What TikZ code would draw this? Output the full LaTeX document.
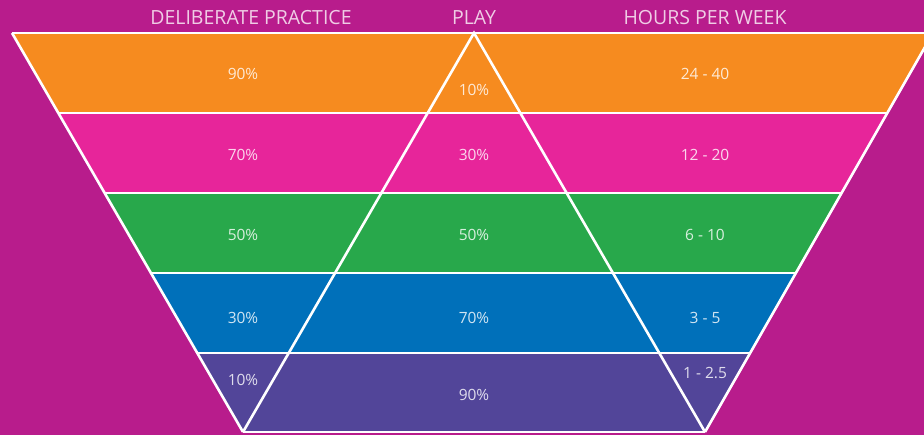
\documentclass[tikz,border=0pt]{standalone}
\usepackage{fontspec}
\setmainfont{Open Sans}
\definecolor{bgc}{HTML}{B81C8C}
\definecolor{c1}{HTML}{F68B1F}
\definecolor{c2}{HTML}{E7259A}
\definecolor{c3}{HTML}{28A84B}
\definecolor{c4}{HTML}{0070BA}
\definecolor{c5}{HTML}{524599}
\begin{document}
\begin{tikzpicture}[x=1pt,y=-1pt,
  lbl/.style={text=white,text opacity=0.82,font=\fontsize{15.5}{18}\selectfont,inner sep=0pt},
  hdr/.style={text=white,text opacity=0.78,font=\fontsize{19.5}{22}\selectfont,inner sep=0pt},
  wl/.style={draw=white,line width=2.6pt}]
\fill[bgc] (0,0) rectangle (924,435);
\useasboundingbox (0,0) rectangle (924,435);
\coordinate (TL) at (12,33);
\coordinate (TR) at (933,33);
\coordinate (BL) at (243,432);
\coordinate (BR) at (705,432);
\coordinate (AP) at (474,33);
\begin{scope}
\clip (TL) -- (TR) -- (BR) -- (BL) -- cycle;
\fill[c1] (0,33) rectangle (940,113);
\fill[c2] (0,113) rectangle (940,193);
\fill[c3] (0,193) rectangle (940,273);
\fill[c4] (0,273) rectangle (940,353);
\fill[c5] (0,353) rectangle (940,433);
\draw[wl] (0,113) -- (940,113);
\draw[wl] (0,193) -- (940,193);
\draw[wl] (0,273) -- (940,273);
\draw[wl] (0,353) -- (940,353);
\end{scope}
\draw[wl] (TL) -- (TR);
\draw[wl] (TL) -- (BL);
\draw[wl] (TR) -- (BR);
\draw[wl] (BL) -- (BR);
\draw[wl] (BL) -- (AP) -- (BR);
% headers
\node[hdr] (h1) at (251,18) {DELIBERATE PRACTICE};
\node[hdr] (h2) at (474,18) {PLAY};
\node[hdr] (h3) at (705,18) {HOURS PER WEEK};
% left column
\node[lbl] (l1) at (243,74) {90\%};
\node[lbl] (l2) at (243,155) {70\%};
\node[lbl] (l3) at (243,235) {50\%};
\node[lbl] (l4) at (243,318) {30\%};
\node[lbl] (l5) at (243,380) {10\%};
% middle
\node[lbl] (m1) at (474,90) {10\%};
\node[lbl] (m2) at (474,155) {30\%};
\node[lbl] (m3) at (474,235) {50\%};
\node[lbl] (m4) at (474,318) {70\%};
\node[lbl] (m5) at (474,395) {90\%};
% right
\node[lbl] (r1) at (705,74) {24 - 40};
\node[lbl] (r2) at (705,155) {12 - 20};
\node[lbl] (r3) at (705,235) {6 - 10};
\node[lbl] (r4) at (705,318) {3 - 5};
\node[lbl] (r5) at (705,373) {1 - 2.5};
\end{tikzpicture}
\end{document}
